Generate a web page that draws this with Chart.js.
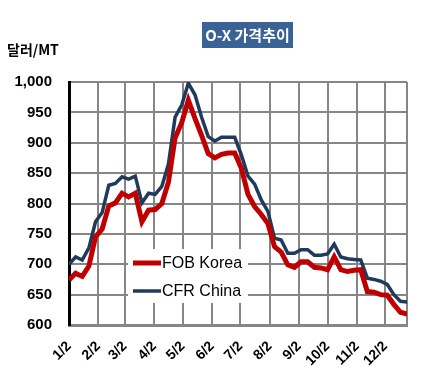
<!DOCTYPE html>
<html>
<head>
<meta charset="utf-8">
<script src="https://cdn.jsdelivr.net/npm/chart.js@4"></script>
<style>
  html, body { margin: 0; padding: 0; background: #fff; }
  #wrap { width: 432px; height: 381px; }
</style>
</head>
<body>
<div id="wrap"><canvas id="myChart" width="432" height="381"></canvas></div>
<script>
// weekly price data (days since 1/2)
const weekDays = [];
for (let i = 0; i < 52; i++) weekDays.push(i * 7);

const fobKorea = [674, 685, 680, 697, 745, 758, 796, 801, 817, 811, 817, 770, 789, 790, 800, 835,
    908, 933, 970, 940, 912, 882, 875, 881, 883, 883, 858, 815, 795, 782, 767, 729, 720, 699, 695, 704,
    704, 695, 694, 691, 712, 691, 688, 690, 691, 655, 654, 650, 649, 634, 621, 618];
const cfrChina = [700, 712, 707, 727, 770, 785, 830, 833, 844, 840, 845, 801, 817, 815, 828, 865,
    942, 962, 998, 979, 942, 910, 903, 909, 909, 909, 880, 845, 832, 806, 787, 743, 740, 718, 718, 724,
    724, 715, 715, 717, 733, 712, 709, 708, 707, 677, 675, 672, 667, 650, 639, 638];

// month tick labels and their day offsets
const monthLabels = ['1/2', '2/2', '3/2', '4/2', '5/2', '6/2', '7/2', '8/2', '9/2', '10/2', '11/2', '12/2'];
const monthDays = [0, 31, 59, 90, 120, 151, 181, 212, 243, 273, 304, 334];
const xEnd = 357;

const toPoints = (vals) => vals.map((v, i) => ({ x: weekDays[i], y: v }));

// title, unit and legend drawn on the canvas
const decorations = {
    id: 'decorations',
    afterDraw(chart) {
        const c = chart.ctx;
        c.save();
        // title box
        c.fillStyle = '#3b6295';
        c.fillRect(202, 22, 91, 26);
        c.fillStyle = '#fff';
        c.font = 'bold 15px "Noto Sans CJK KR", "Liberation Sans", sans-serif';
        c.textAlign = 'center';
        c.textBaseline = 'middle';
        c.fillText('O-X 가격추이', 247.5, 35);
        // unit
        c.fillStyle = '#000';
        c.textAlign = 'left';
        c.font = 'bold 14px "Noto Sans CJK KR", "Liberation Sans", sans-serif';
        c.fillText('달러/MT', 7, 50);
        // legend
        c.fillStyle = '#fff';
        c.fillRect(128, 249, 120, 54);
        c.font = '16px "Liberation Sans", Arial, sans-serif';
        chart.data.datasets.forEach((ds, i) => {
            const y = 263 + i * 28;
            c.strokeStyle = ds.borderColor;
            c.lineWidth = ds.borderWidth;
            c.beginPath();
            c.moveTo(133, y);
            c.lineTo(161, y);
            c.stroke();
            c.fillStyle = '#000';
            c.fillText(ds.label, 162, y + 1);
        });
        c.restore();
    }
};

const ctx = document.getElementById('myChart').getContext('2d');
const myChart = new Chart(ctx, {
    type: 'line',
    data: {
        datasets: [{
            label: 'FOB Korea',
            data: toPoints(fobKorea),
            borderColor: '#c00000',
            borderWidth: 5,
            pointRadius: 0,
            tension: 0,
        }, {
            label: 'CFR China',
            data: toPoints(cfrChina),
            borderColor: '#203a5c',
            borderWidth: 3.5,
            pointRadius: 0,
            tension: 0,
        }],
    },
    options: {
        responsive: false,
        animation: false,
        layout: { padding: { top: 82, right: 19, left: 0, bottom: 0 } },
        plugins: {
            legend: { display: false },
            tooltip: { enabled: false },
        },
        scales: {
            x: {
                type: 'linear',
                min: 0,
                max: xEnd,
                afterBuildTicks(scale) {
                    scale.ticks = monthDays.concat([xEnd]).map(v => ({ value: v }));
                },
                afterFit(scale) { scale.height = 56; },
                ticks: {
                    autoSkip: false,
                    maxRotation: 45,
                    minRotation: 45,
                    padding: 13,
                    color: '#000',
                    font: { family: '"Liberation Sans", Arial, sans-serif', size: 14, weight: 'bold' },
                    callback(value) {
                        const idx = monthDays.indexOf(value);
                        return idx >= 0 ? monthLabels[idx] : '';
                    },
                },
                grid: { color: '#868686', lineWidth: 2, drawTicks: false },
                border: { color: '#868686', width: 3 },
            },
            y: {
                min: 600,
                max: 1000,
                afterFit(scale) { scale.width = 69; },
                ticks: {
                    stepSize: 50,
                    padding: 17,
                    color: '#000',
                    font: { family: '"Liberation Sans", Arial, sans-serif', size: 15, weight: 'bold' },
                    callback: (v) => v.toLocaleString('en-US'),
                },
                grid: { color: '#868686', lineWidth: 2, drawTicks: false },
                border: { color: '#000', width: 3 },
            },
        },
    },
    plugins: [decorations],
});
</script>
</body>
</html>
